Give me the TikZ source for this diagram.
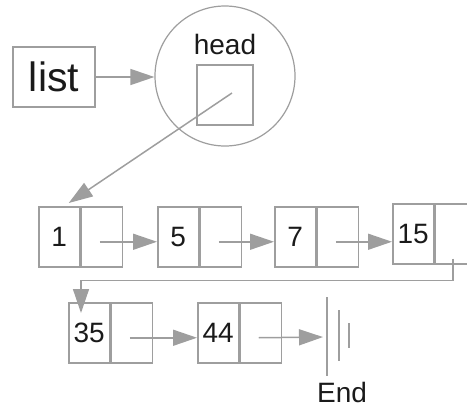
\documentclass[tikz,border=0pt]{standalone}
\usepackage{fontspec}
\setmainfont{Liberation Sans}
\usetikzlibrary{arrows.meta,calc}
\definecolor{linec}{HTML}{9E9E9E}
\definecolor{txt}{HTML}{1A1A1A}
\begin{document}
\begin{tikzpicture}[x=1pt,y=-1pt,
  gl/.style={draw=linec, line width=1.5pt},
  cell/.style={gl, minimum width=41pt, minimum height=60pt, inner sep=0pt, anchor=north west,
    font=\fontsize{28}{28}\selectfont, text=txt},
  ptr/.style={draw=linec, line width=1.5pt, -{Triangle[length=24pt,width=16pt]}},
]
\useasboundingbox (0,0) rectangle (467,410);
% list and head
\node[gl, minimum width=82pt, minimum height=60pt, inner sep=0pt, font=\fontsize{41}{41}\selectfont, text=txt] (list) at (54,77) {list};
\node[draw=linec, line width=1.2pt, circle, minimum size=140pt, inner sep=0pt] (circ) at (225,76) {};
\node[font=\fontsize{28}{28}\selectfont, text=txt] (headlbl) at (225,44) {head};
\node[gl, minimum width=56pt, minimum height=60pt, inner sep=0pt] (hsq) at (225,95) {};
% row 1
\node[cell] (n1) at (38,206) {1};
\node[cell] (n1p) at (n1.north east) {};
\node[cell] (n5) at (157,206) {5};
\node[cell] (n5p) at (n5.north east) {};
\node[cell] (n7) at (274,206) {7};
\node[cell] (n7p) at (n7.north east) {};
\node[cell] (n15) at (392,203) {15};
\node[cell] (n15p) at (n15.north east) {};
% row 2
\node[cell] (n35) at (68,302) {35};
\node[cell] (n35p) at (n35.north east) {};
\node[cell] (n44) at (197,302) {44};
\node[cell] (n44p) at (n44.north east) {};
% end marker
\coordinate (gnd) at (327,337);
\draw[gl] ($(gnd)+(0,-40)$) -- ($(gnd)+(0,39)$);
\draw[gl] ($(gnd)+(12,-27)$) -- ($(gnd)+(12,24)$);
\draw[gl] ($(gnd)+(22,-14)$) -- ($(gnd)+(22,11)$);
\node[font=\fontsize{28}{28}\selectfont, text=txt] (endlbl) at (342,392) {End};
% connectors
\draw[ptr] (list.east) -- (list.east -| circ.west);
\draw[ptr] ($(hsq.center)+(7,-2)$) -- ($(n1.north)+(9.5,-3)$);
\draw[ptr] ($(n1p.center)+(-2,5)$) coordinate (a1) -- (a1 -| n5.west);
\draw[ptr] ($(n5p.center)+(-2,5)$) coordinate (a5) -- (a5 -| n7.west);
\draw[ptr] ($(n7p.center)+(-2,5)$) coordinate (a7) -- (a7 -| n15.west);
\draw[ptr] ($(n15p.south)+(-3,-6)$) -- ++(0,22) -| ($(n35.north west)+(13,11)$);
\draw[ptr] ($(n35p.center)+(-2,5)$) coordinate (a35) -- (a35 -| n44.west);
\draw[ptr, shorten >=4pt] ($(n44p.center)+(-2,5)$) -- (gnd);
\end{tikzpicture}
\end{document}
